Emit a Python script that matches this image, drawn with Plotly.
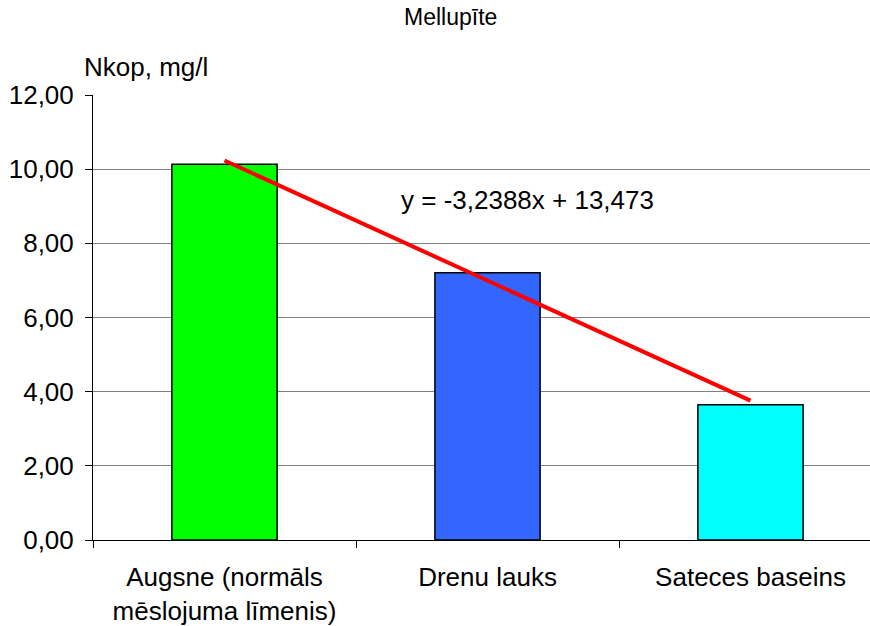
import plotly.graph_objects as go

categories = ["Augsne (normāls<br>mēslojuma līmenis)", "Drenu lauks", "Sateces baseins"]
values = [10.13, 7.21, 3.65]
bar_colors = ["#00FF00", "#3366FF", "#00FFFF"]
trend_slope = -3.2388
trend_intercept = 13.473
trend_label = "y = -3,2388x + 13,473"
y_ticks = [0, 2, 4, 6, 8, 10, 12]
title_text = "Mellupīte"
y_title = "Nkop, mg/l"

W, H = 870, 626
L, T, B = 93, 95, 86
plot_w = W - L
plot_h = H - T - B
FONT = "Liberation Sans, Arial, sans-serif"


def px(x):
    return (x - L) / plot_w


def py(y):
    return (H - B - y) / plot_h


fig = go.Figure()
fig.add_trace(go.Bar(
    x=categories, y=values, width=0.4,
    marker=dict(color=bar_colors, line=dict(color="black", width=1.5)),
    showlegend=False, hoverinfo="skip",
))
xs = [1, len(categories)]
fig.add_trace(go.Scatter(
    x=[categories[0], categories[-1]],
    y=[trend_intercept + trend_slope * v for v in xs],
    mode="lines", line=dict(color="#FF0000", width=4),
    showlegend=False, hoverinfo="skip",
))

cat_px = 263.0
fig.update_layout(
    width=W, height=H,
    margin=dict(l=L, r=0, t=T, b=B),
    paper_bgcolor="white", plot_bgcolor="white",
    separators=", ",
    font=dict(family=FONT, size=26, color="black"),
    xaxis=dict(
        type="category",
        range=[-0.5, -0.5 + plot_w / cat_px],
        showline=True, linecolor="black", linewidth=1,
        ticks="outside", ticklen=7, tickcolor="black", tickson="boundaries",
        showgrid=False, zeroline=False,
        tickfont=dict(size=26), ticklabelstandoff=14,
    ),
    yaxis=dict(
        range=[0, 12], tickvals=y_ticks, tickformat=".2f",
        showline=True, linecolor="black", linewidth=1,
        ticks="outside", ticklen=7, tickcolor="black",
        showgrid=True, gridcolor="#808080", gridwidth=1,
        zeroline=False, ticklabelstandoff=6,
        tickfont=dict(size=26),
    ),
    annotations=[
        dict(text=title_text, xref="paper", yref="paper", x=px(450), y=py(17),
             xanchor="center", yanchor="middle", showarrow=False,
             font=dict(size=23)),
        dict(text=y_title, xref="paper", yref="paper", x=px(82), y=py(67),
             xanchor="left", yanchor="middle", showarrow=False,
             font=dict(size=26)),
        dict(text=trend_label, xref="paper", yref="paper", x=px(399), y=py(200),
             xanchor="left", yanchor="middle", showarrow=False,
             font=dict(size=26)),
    ],
)

fig.write_html("out.html")
